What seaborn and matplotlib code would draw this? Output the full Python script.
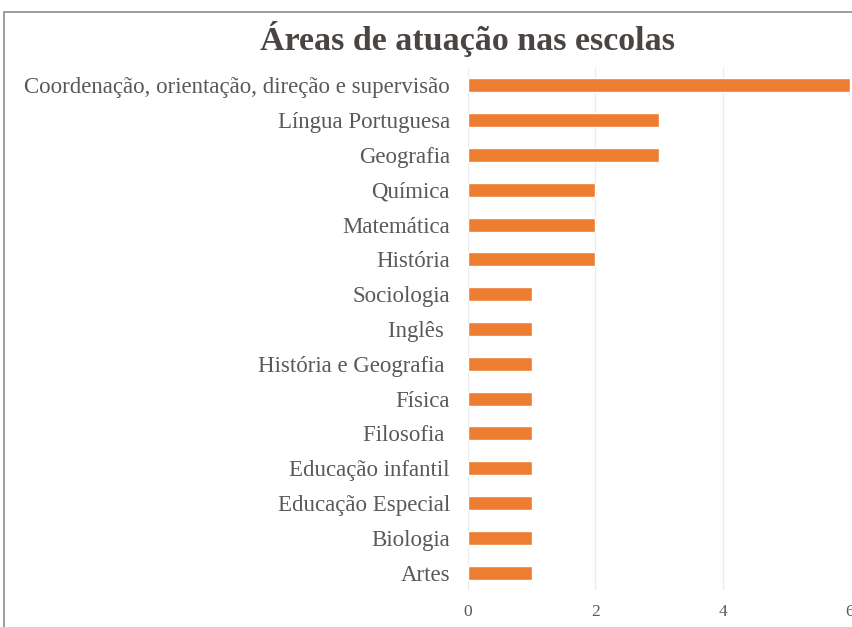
import matplotlib
matplotlib.use('Agg')
import matplotlib.pyplot as plt
import seaborn as sns
import pandas as pd
from matplotlib.patches import Rectangle

areas = ['Coordenação, orientação, direção e supervisão', 'Língua Portuguesa', 'Geografia',
         'Química', 'Matemática', 'História', 'Sociologia', 'Inglês ', 'História e Geografia ',
         'Física', 'Filosofia ', 'Educação infantil', 'Educação Especial', 'Biologia', 'Artes']
counts = [6, 3, 3, 2, 2, 2, 1, 1, 1, 1, 1, 1, 1, 1, 1]
xticks = [0, 2, 4, 6]

sns.set_style('white')
plt.rcParams['font.family'] = ['Liberation Serif', 'DejaVu Serif']

df = pd.DataFrame({'area': areas, 'n': counts})

fig = plt.figure(figsize=(8.52, 6.27), dpi=100)
fig.patches.append(Rectangle((4 / 852, -0.1), 1.2, 1 - 12 / 627 + 0.1, transform=fig.transFigure,
                             fill=False, edgecolor='#8c8c8c', linewidth=1.2))
ax = fig.add_axes([468 / 852, 1 - 590 / 627, (850 - 468) / 852, (590 - 68) / 627])

sns.barplot(data=df, x='n', y='area', color='#ed7d31', saturation=1, width=0.4, ax=ax)

ax.set_xlim(0, 6)
ax.set_xticks(xticks)
ax.grid(axis='x', color='#ececec', linewidth=1)
ax.set_axisbelow(True)
for s in ax.spines.values():
    s.set_visible(False)
ax.set_xlabel('')
ax.set_ylabel('')
ax.tick_params(axis='y', labelsize=16.5, labelcolor='#595959', length=0, pad=13)
ax.tick_params(axis='x', labelsize=12.5, labelcolor='#595959', length=0, pad=10)

fig.text(467 / 852, 1 - 39 / 627, 'Áreas de atuação nas escolas', ha='center', va='center',
         fontsize=24.5, fontweight='bold', color='#4a4543')

fig.savefig('out.png', dpi=100)
